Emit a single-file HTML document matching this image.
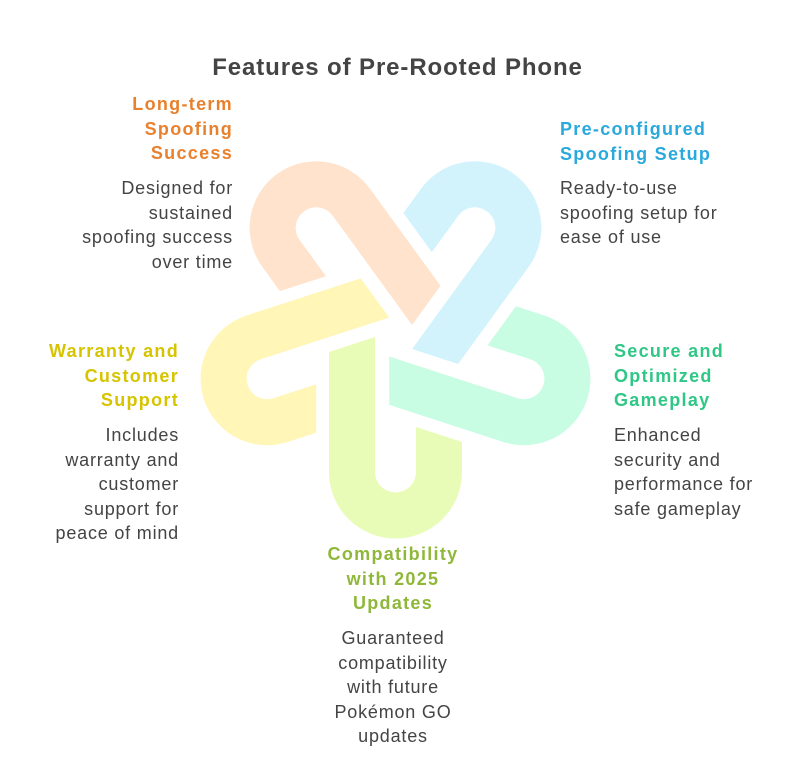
<!DOCTYPE html>
<html><head><meta charset="utf-8"><style>
body{margin:0;width:804px;height:759px;background:#fff;position:relative;overflow:hidden;font-family:"Liberation Sans",sans-serif;}
.t{position:absolute;font-size:18px;letter-spacing:0.8px;line-height:24.5px;color:#444;white-space:nowrap;}
.h{font-weight:bold;letter-spacing:1.3px;}
.r{text-align:right;}
.c{text-align:center;}
</style></head><body>
<svg width="804" height="759" style="position:absolute;left:0;top:0">
<defs><path id="u" d="M -66.5,15 L -20.5,0 L -20.5,135 A 20.5 20.5 0 0 0 20.5,135 L 20.5,90 L 66.5,105 L 66.5,135 A 66.5 66.5 0 0 1 -66.5,135 Z"/></defs>
<g transform="translate(395.5,337)">
<use href="#u" fill="#ffe3cc" transform="rotate(144)"/>
<use href="#u" fill="#d2f3fc" transform="rotate(-144)"/>
<use href="#u" fill="#c8fde4" transform="rotate(-72)"/>
<use href="#u" fill="#fff6b8" transform="rotate(72)"/>
<use href="#u" fill="#e8fcb8"/>
</g>
</svg>
<div class="t h c" style="left:0;width:795px;top:53px;font-size:24px;letter-spacing:0.9px;line-height:30px;color:#444">Features of Pre-Rooted Phone</div>

<div class="t h r" style="right:571px;top:92px;color:#e8812e">Long-term<br>Spoofing<br>Success</div>
<div class="t r" style="right:571px;top:176px">Designed for<br>sustained<br>spoofing success<br>over time</div>

<div class="t h" style="left:560px;top:117px;color:#29a9dc">Pre-configured<br>Spoofing Setup</div>
<div class="t" style="left:560px;top:176px">Ready-to-use<br>spoofing setup for<br>ease of use</div>

<div class="t h r" style="right:625px;top:339px;color:#d6c400">Warranty and<br>Customer<br>Support</div>
<div class="t r" style="right:625px;top:423px">Includes<br>warranty and<br>customer<br>support for<br>peace of mind</div>

<div class="t h" style="left:614px;top:339px;color:#2fc786">Secure and<br>Optimized<br>Gameplay</div>
<div class="t" style="left:614px;top:423px">Enhanced<br>security and<br>performance for<br>safe gameplay</div>

<div class="t h c" style="left:293px;width:200px;top:542px;color:#8fb83a">Compatibility<br>with 2025<br>Updates</div>
<div class="t c" style="left:293px;width:200px;top:626px">Guaranteed<br>compatibility<br>with future<br>Pokémon GO<br>updates</div>
</body></html>
